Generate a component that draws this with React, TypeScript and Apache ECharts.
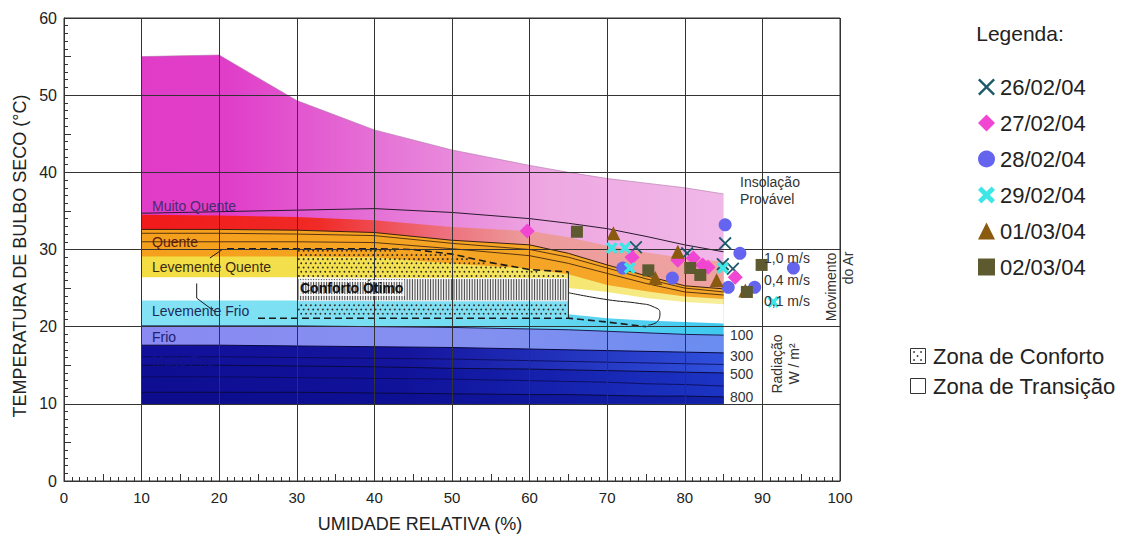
import React, { useEffect, useRef } from "react";
import * as echarts from "echarts";

const FONT = "'Liberation Sans', Arial, Helvetica, sans-serif";

// Relative humidity stations (%) where the zone boundaries are given
const RH = [10, 20, 30, 40, 50, 60, 65, 70, 75, 80, 85];

// Zone boundaries (dry-bulb temperature, °C) at each RH station
const insolationTop = [55.0, 55.2, 49.3, 45.5, 42.9, 40.9, 40.0, 39.2, 38.6, 38.0, 37.2];
const muitoQuenteLine = [34.7, 34.9, 35.1, 35.3, 34.8, 34.0, 33.4, 32.7, 31.7, 30.6, 29.7];
const quenteTop = [34.5, 34.4, 34.2, 33.8, 32.9, 32.4, 31.6, 30.5, 29.6, 28.9, 28.4];
const orangeTop = [32.6, 32.6, 32.5, 32.2, 31.2, 30.6, 29.5, 28.0, 26.6, 25.3, 24.9];
const orangeLineA = [32.1, 32.1, 32.0, 31.8, 30.8, 30.0, 29.0, 27.6, 26.2, 25.0, 24.5];
const orangeLineB = [31.0, 31.0, 31.0, 30.9, 30.1, 29.2, 28.2, 26.9, 25.6, 24.5, 24.1];
const yellowTop = [29.1, 29.1, 29.1, 29.0, 28.2, 27.5, 26.8, 25.4, 24.6, 23.9, 23.6];
const whiteTop = [26.4, 26.4, 26.4, 26.3, 26.2, 25.8, 25.0, 24.5, 23.7, 23.2, 22.9];
const cyanTop = [23.4, 23.4, 23.4, 23.3, 23.1, 22.5, 21.6, 21.1, 20.8, 20.6, 20.4];
const frioTop = [20.1, 20.1, 20.1, 20.0, 19.9, 19.7, 19.6, 19.4, 19.2, 19.0, 18.9];
const rad300 = [17.6, 17.6, 17.5, 17.4, 17.3, 17.1, 17.0, 16.9, 16.8, 16.7, 16.6];
const blueLine1 = [16.1, 16.1, 16.0, 15.9, 15.8, 15.6, 15.5, 15.4, 15.3, 15.2, 15.1];
const rad500 = [15.0, 15.0, 14.9, 14.8, 14.6, 14.5, 14.4, 14.3, 14.2, 14.1, 14.0];
const blueLine2 = [13.5, 13.5, 13.4, 13.3, 13.2, 13.0, 12.9, 12.8, 12.6, 12.5, 12.3];
const rad800 = [11.5, 11.5, 11.5, 11.4, 11.3, 11.2, 11.2, 11.1, 11.0, 11.0, 10.9];
const baseTemp = [10, 10, 10, 10, 10, 10, 10, 10, 10, 10, 10];

// Comfort zone ("Conforto Ótimo")
const comfortRH = [30, 40, 45, 50, 55, 60, 65];
const comfortTop = [30.1, 30.1, 30.0, 29.4, 28.3, 27.4, 27.1];
const HATCH_TOP = 26.3;
const HATCH_BOTTOM = 23.3;
const COMFORT_BOTTOM = 21.1;
const upperLimitDash = [[21, 30.1], [30, 30.1], [40, 30.1], [45, 30.0], [50, 29.4], [55, 28.3], [60, 27.4], [65, 27.1]];
const lowerLimitDash = [[25, 21.1], [65, 21.1], [70, 20.6], [75, 20.0]];
const transitionEdge = [[65, 24.4], [70, 23.5], [74.2, 23.0], [75.9, 22.6], [76.8, 21.8], [76.5, 20.7], [75.3, 20.2]];
const leaderFrio = [[17.1, 25.6], [17.1, 23.7], [19.5, 21.9]];
const leaderQuente = [[18.8, 28.9], [20.4, 30.0]];

// Measured conditions [RH %, °C]
const SERIES_NAMES = ["26/02/04", "27/02/04", "28/02/04", "29/02/04", "01/03/04", "02/03/04"];
const d2602 = [[73.7, 30.3], [80.3, 29.5], [85.2, 30.8], [84.9, 28.1], [86.2, 27.5]];
const d2702 = [[59.7, 32.4], [73.2, 29.0], [79.1, 28.6], [81.1, 28.9], [82.3, 28.0], [83.0, 27.7], [86.5, 26.4]];
const d2802 = [[85.2, 33.2], [87.1, 29.5], [85.6, 25.1], [89.0, 25.1], [94.0, 27.6], [72.0, 27.6], [78.4, 26.3]];
const d2902 = [[70.6, 30.2], [72.3, 30.2], [72.9, 27.6], [84.9, 27.6], [91.4, 23.2]];
const d0103 = [[70.8, 32.1], [79.1, 29.7], [76.2, 26.3], [84.1, 26.0], [87.8, 24.7]];
const d0203 = [[66.1, 32.3], [75.3, 27.3], [80.7, 27.6], [82.0, 26.7], [89.9, 28.0], [88.0, 24.5]];

const X_THIN = "path://M1,0 L5,4 L9,0 L10,1 L6,5 L10,9 L9,10 L5,6 L1,10 L0,9 L4,5 L0,1 Z";
const X_BOLD = "path://M2,0 L5,3 L8,0 L10,2 L7,5 L10,8 L8,10 L5,7 L2,10 L0,8 L3,5 L0,2 Z";

const SCATTER = [
  { name: SERIES_NAMES[0], data: d2602, symbol: X_THIN, size: 13, color: "#1e5a6a" },
  { name: SERIES_NAMES[1], data: d2702, symbol: "diamond", size: 15, color: "#f046d2" },
  { name: SERIES_NAMES[2], data: d2802, symbol: "circle", size: 13, color: "#6464ee" },
  { name: SERIES_NAMES[3], data: d2902, symbol: X_BOLD, size: 12, color: "#3ee6e6" },
  { name: SERIES_NAMES[4], data: d0103, symbol: "triangle", size: 14, color: "#8a5a0e" },
  { name: SERIES_NAMES[5], data: d0203, symbol: "rect", size: 12, color: "#5c5a2e" },
];

type Stop = [number, string];
const BANDS: { top: number[]; stops: Stop[] }[] = [
  { top: insolationTop, stops: [[0, "#e03cc8"], [0.15, "#e03ec9"], [0.45, "#e67ad8"], [0.7, "#eea8e2"], [1, "#f0b8e8"]] },
  { top: quenteTop, stops: [[0, "#f01a1a"], [0.3, "#f02a26"], [0.5, "#ee6a78"], [0.66, "#ec9a9a"], [1, "#eea4a2"]] },
  { top: orangeTop, stops: [[0, "#f5a01c"], [1, "#f5a82a"]] },
  { top: yellowTop, stops: [[0, "#f3dd42"], [0.6, "#f4e35a"], [1, "#f7ee9c"]] },
  { top: whiteTop, stops: [[0, "#ffffff"], [1, "#ffffff"]] },
  { top: cyanTop, stops: [[0, "#84e2f4"], [0.6, "#72dcf2"], [1, "#3ec8f0"]] },
  { top: frioTop, stops: [[0, "#8a8af2"], [0.6, "#8290f0"], [1, "#6a8cf0"]] },
  { top: rad300, stops: [[0, "#10109a"], [0.45, "#14149c"], [1, "#3050dc"]] },
  { top: rad500, stops: [[0, "#0e0e92"], [0.45, "#10129a"], [1, "#1c34c4"]] },
  { top: rad800, stops: [[0, "#0c0c8c"], [0.45, "#0e1094"], [1, "#1222a8"]] },
];

const LINES: { values: number[]; color: string; width: number }[] = [
  { values: insolationTop, color: "#b070a8", width: 0.6 },
  { values: muitoQuenteLine, color: "#2a1a30", width: 1 },
  { values: orangeTop, color: "#3a2010", width: 1 },
  { values: orangeLineA, color: "#4a2810", width: 0.9 },
  { values: orangeLineB, color: "#4a2810", width: 0.9 },
  { values: frioTop, color: "#1a1a50", width: 1 },
  { values: rad300, color: "#0a0a40", width: 1 },
  { values: blueLine1, color: "#0a0a50", width: 0.8 },
  { values: rad500, color: "#0a0a40", width: 1 },
  { values: blueLine2, color: "#0a0a50", width: 0.8 },
  { values: rad800, color: "#0a0a40", width: 1 },
];

function interp(xs: number[], ys: number[], x: number) {
  if (x <= xs[0]) return ys[0];
  for (let i = 1; i < xs.length; i++) {
    if (x <= xs[i]) {
      const t = (x - xs[i - 1]) / (xs[i] - xs[i - 1]);
      return ys[i - 1] + t * (ys[i] - ys[i - 1]);
    }
  }
  return ys[ys.length - 1];
}

const grad = (stops: Stop[]) =>
  new echarts.graphic.LinearGradient(0, 0, 1, 0, stops.map(([offset, color]) => ({ offset, color })));

function renderBand(params: any, api: any) {
  const band = BANDS[params.dataIndex];
  const pts = RH.map((x, i) => api.coord([x, band.top[i]]));
  for (let i = RH.length - 1; i >= 0; i--) pts.push(api.coord([RH[i], baseTemp[i]]));
  return { type: "polygon", shape: { points: pts }, style: { fill: grad(band.stops) } };
}

function renderComfort(_params: any, api: any) {
  const children: any[] = [];
  const xMin = comfortRH[0];
  const xMax = comfortRH[comfortRH.length - 1];
  const [x0, yHT] = api.coord([xMin, HATCH_TOP]);
  const [x1, yHB] = api.coord([xMax, HATCH_BOTTOM]);
  const yCB = api.coord([xMin, COMFORT_BOTTOM])[1];
  const yTopMax = api.coord([xMin, comfortTop[0]])[1];
  // hatched core
  children.push({ type: "rect", shape: { x: x0, y: yHT, width: x1 - x0, height: yHB - yHT }, style: { fill: "#f2f2f2" } });
  for (let px = x0 + 1.2; px < x1; px += 2.6) {
    children.push({ type: "line", shape: { x1: px, y1: yHT + 1, x2: px, y2: yHB - 1 }, style: { stroke: "#444", lineWidth: 1 } });
  }
  // cool lower part
  children.push({ type: "rect", shape: { x: x0, y: yHB, width: x1 - x0, height: yCB - yHB }, style: { fill: "#80def2" } });
  // dotted texture
  const pxToX = (px: number) => xMin + ((px - x0) / (x1 - x0)) * (xMax - xMin);
  const pyToT = (py: number) => HATCH_TOP + ((py - yHT) / (yHB - yHT)) * (HATCH_BOTTOM - HATCH_TOP);
  let row = 0;
  for (let py = yTopMax + 2; py < yCB - 1; py += 4.2, row++) {
    const t = pyToT(py);
    for (let px = x0 + 2 + (row % 2) * 2.4; px < x1 - 1; px += 4.8) {
      const x = pxToX(px);
      const inUpper = t < interp(comfortRH, comfortTop, x) - 0.2 && t > HATCH_TOP + 0.15;
      const inLower = t < HATCH_BOTTOM - 0.15 && t > COMFORT_BOTTOM + 0.15;
      if (inUpper || inLower) {
        children.push({ type: "circle", shape: { cx: px, cy: py, r: 0.9 }, style: { fill: "#2e2a20" } });
      }
    }
  }
  // right edge
  const [ex, ey1] = api.coord([xMax, comfortTop[comfortTop.length - 1]]);
  children.push({ type: "line", shape: { x1: ex, y1: ey1, x2: ex, y2: yCB }, style: { stroke: "#222", lineWidth: 1 } });
  return { type: "group", children };
}

const txt = (text: string, x: number, y: number, extra: any = {}) => ({
  type: "text",
  x,
  y,
  z: 30,
  silent: true,
  style: {
    text,
    fontFamily: FONT,
    fontSize: 14,
    fill: "#222",
    verticalAlign: "middle",
    ...extra,
  },
});

const vtxt = (text: string, x: number, y: number, extra: any = {}) => ({
  type: "text",
  x,
  y,
  z: 30,
  rotation: Math.PI / 2,
  silent: true,
  style: { text, fontFamily: FONT, fontSize: 14, fill: "#222", align: "center", verticalAlign: "middle", ...extra },
});

function buildOption(): any {
  const series: any[] = [];
  series.push({
    type: "custom",
    coordinateSystem: "cartesian2d",
    silent: true,
    z: 1,
    data: BANDS.map((b, i) => [RH[0], b.top[0], i]),
    renderItem: renderBand,
  });
  LINES.forEach((l) =>
    series.push({
      type: "line",
      silent: true,
      z: 2,
      symbol: "none",
      data: RH.map((x, i) => [x, l.values[i]]),
      lineStyle: { color: l.color, width: l.width },
    })
  );
  series.push({
    type: "custom",
    coordinateSystem: "cartesian2d",
    silent: true,
    z: 3,
    data: [[comfortRH[0], comfortTop[0]]],
    renderItem: renderComfort,
  });
  const extraLine = (data: number[][], dashed: boolean, smooth: number) => ({
    type: "line",
    silent: true,
    z: 4,
    symbol: "none",
    smooth,
    data,
    lineStyle: { color: "#1a1a1a", width: dashed ? 1.6 : 1, type: dashed ? [7, 4] : "solid" },
  });
  series.push(extraLine(upperLimitDash, true, 0));
  series.push(extraLine(lowerLimitDash, true, 0));
  series.push(extraLine(transitionEdge, false, 0.5));
  series.push(extraLine(leaderFrio, false, 0));
  series.push(extraLine(leaderQuente, false, 0));
  SCATTER.forEach((s) =>
    series.push({
      type: "scatter",
      name: s.name,
      z: 10,
      symbol: s.symbol,
      symbolSize: s.size,
      data: s.data,
      itemStyle: { color: s.color, opacity: 1 },
    })
  );

  const axisCommon = {
    type: "value",
    z: 5,
  };

  const graphic: any[] = [
    txt("Muito Quente", 152, 206, { fill: "#4b2a6e" }),
    txt("Quente", 152, 242, { fill: "#5a1a10" }),
    txt("Levemente Quente", 152, 267, { fill: "#3a2a10" }),
    txt("Conforto Ótimo", 300, 288, { fill: "#111", fontWeight: "bold", textBorderColor: "rgba(255,255,255,0.85)", textBorderWidth: 2 }),
    txt("Levemente Frio", 152, 311, { fill: "#1e2a5a" }),
    txt("Frio", 152, 337, { fill: "#202070" }),
    txt("Muito Frio", 152, 361, { fill: "#14148a" }),
    txt("Insolação", 740, 182, { fill: "#333" }),
    txt("Provável", 740, 199, { fill: "#333" }),
    txt("1,0 m/s", 764, 258, { fill: "#333" }),
    txt("0,4 m/s", 764, 280, { fill: "#333" }),
    txt("0,1 m/s", 764, 301, { fill: "#333" }),
    txt("100", 730, 335, { fill: "#333" }),
    txt("300", 730, 356, { fill: "#333" }),
    txt("500", 730, 374, { fill: "#333" }),
    txt("800", 730, 397, { fill: "#333" }),
    vtxt("Movimento", 831, 287, { fill: "#333" }),
    vtxt("do Ar", 848, 268, { fill: "#333" }),
    vtxt("Radiação", 777, 364, { fill: "#333" }),
    vtxt("W / m²", 794, 364, { fill: "#333" }),
    vtxt("TEMPERATURA DE BULBO SECO (°C)", 20, 256, { fontSize: 18, fill: "#222" }),
    txt("UMIDADE RELATIVA (%)", 420, 524, { fontSize: 18, fill: "#222", align: "center" }),
    txt("Legenda:", 1020, 33, { fontSize: 21, fill: "#222", align: "center" }),
    // comfort / transition key
    { type: "rect", z: 30, shape: { x: 910.5, y: 348.5, width: 15, height: 15 }, style: { fill: "#fff", stroke: "#333", lineWidth: 1 } },
    { type: "circle", z: 31, shape: { cx: 914, cy: 352, r: 0.9 }, style: { fill: "#333" } },
    { type: "circle", z: 31, shape: { cx: 921, cy: 352, r: 0.9 }, style: { fill: "#333" } },
    { type: "circle", z: 31, shape: { cx: 917.5, cy: 356, r: 0.9 }, style: { fill: "#333" } },
    { type: "circle", z: 31, shape: { cx: 914, cy: 360, r: 0.9 }, style: { fill: "#333" } },
    { type: "circle", z: 31, shape: { cx: 921, cy: 360, r: 0.9 }, style: { fill: "#333" } },
    txt("Zona de Conforto", 933, 356, { fontSize: 22, fill: "#222" }),
    { type: "rect", z: 30, shape: { x: 910.5, y: 378.5, width: 15, height: 15 }, style: { fill: "#fff", stroke: "#333", lineWidth: 1 } },
    txt("Zona de Transição", 933, 386, { fontSize: 22, fill: "#222" }),
  ];

  return {
    animation: false,
    backgroundColor: "#ffffff",
    textStyle: { fontFamily: FONT },
    grid: { left: 64, right: 284, top: 18, bottom: 55, show: true, borderColor: "#333", borderWidth: 1 },
    legend: {
      data: SERIES_NAMES,
      orient: "vertical",
      left: 973,
      top: 71,
      itemWidth: 17,
      itemHeight: 17,
      itemGap: 14,
      selectedMode: false,
      textStyle: { fontSize: 22, color: "#222", fontFamily: FONT },
    },
    xAxis: [
      {
        ...axisCommon,
        min: 0,
        max: 100,
        interval: 10,
        axisLine: { show: true, lineStyle: { color: "#333", width: 1 } },
        axisTick: { show: false, inside: true },
        minorTick: { show: true, splitNumber: 10, length: 4, lineStyle: { color: "#333" } },
        axisLabel: { fontSize: 15, color: "#222", margin: 9, fontFamily: FONT },
        splitLine: { show: true, lineStyle: { color: "#333", width: 1 } },
      },
      {
        ...axisCommon,
        min: 0,
        max: 100,
        interval: 5,
        position: "bottom",
        axisLine: { show: false },
        axisTick: { show: true, inside: true, length: 7, lineStyle: { color: "#333" } },
        axisLabel: { show: false },
        splitLine: { show: false },
      },
    ],
    yAxis: [
      {
        ...axisCommon,
        min: 0,
        max: 60,
        interval: 10,
        axisLine: { show: true, lineStyle: { color: "#333", width: 1 } },
        axisTick: { show: false, inside: true },
        minorTick: { show: true, splitNumber: 10, length: 4, lineStyle: { color: "#333" } },
        axisLabel: { fontSize: 16, color: "#222", margin: 7, fontFamily: FONT },
        splitLine: { show: true, lineStyle: { color: "#333", width: 1 } },
      },
      {
        ...axisCommon,
        min: 0,
        max: 60,
        interval: 5,
        position: "left",
        axisLine: { show: false },
        axisTick: { show: true, inside: true, length: 7, lineStyle: { color: "#333" } },
        axisLabel: { show: false },
        splitLine: { show: false },
      },
    ],
    series,
    graphic,
  };
}

export default function App() {
  const ref = useRef<HTMLDivElement>(null);
  useEffect(() => {
    if (!ref.current) return;
    const chart = echarts.init(ref.current, undefined, { renderer: "svg" });
    chart.setOption(buildOption());
    return () => chart.dispose();
  }, []);
  return <div ref={ref} style={{ position: "absolute", left: 0, top: 0, width: 1124, height: 536 }} />;
}
